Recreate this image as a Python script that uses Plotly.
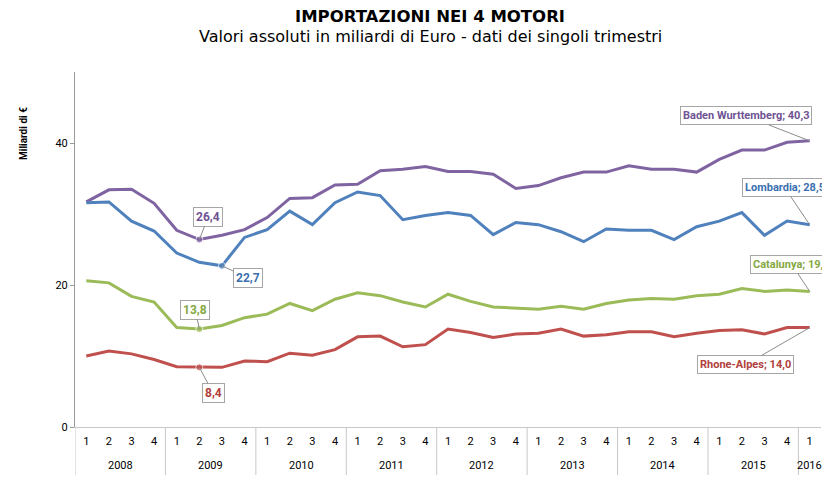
import plotly.graph_objects as go

years = ["2008", "2009", "2010", "2011", "2012", "2013", "2014", "2015", "2016"]
quarters_per_year = [4, 4, 4, 4, 4, 4, 4, 4, 1]
quarter_labels = ["1", "2", "3", "4"]

baden = [31.7, 33.4, 33.5, 31.5, 27.7, 26.4, 27.0, 27.8, 29.5, 32.2, 32.3, 34.1,
         34.2, 36.1, 36.3, 36.7, 36.0, 36.0, 35.6, 33.6, 34.0, 35.1, 35.9, 35.9,
         36.8, 36.3, 36.3, 35.9, 37.7, 39.0, 39.0, 40.1, 40.3]
lombardia = [31.6, 31.7, 29.0, 27.6, 24.5, 23.2, 22.7, 26.7, 27.8, 30.4, 28.5, 31.6,
             33.1, 32.6, 29.2, 29.8, 30.2, 29.8, 27.1, 28.8, 28.5, 27.5, 26.1, 27.9,
             27.7, 27.7, 26.4, 28.2, 29.0, 30.2, 27.0, 29.0, 28.5]
catalunya = [20.6, 20.3, 18.4, 17.6, 14.0, 13.8, 14.3, 15.4, 15.9, 17.4, 16.4, 18.0,
             18.9, 18.5, 17.6, 16.9, 18.7, 17.7, 16.9, 16.7, 16.6, 17.0, 16.6, 17.4,
             17.9, 18.1, 18.0, 18.5, 18.7, 19.5, 19.1, 19.3, 19.1]
rhone = [10.0, 10.7, 10.3, 9.5, 8.5, 8.4, 8.4, 9.3, 9.2, 10.4, 10.1, 10.9,
         12.7, 12.8, 11.3, 11.6, 13.8, 13.3, 12.6, 13.1, 13.2, 13.8, 12.8, 13.0,
         13.4, 13.4, 12.7, 13.2, 13.6, 13.7, 13.1, 14.0, 14.0]

series_names = ["Baden Wurttemberg", "Lombardia", "Catalunya", "Rhone-Alpes"]
series_values = [baden, lombardia, catalunya, rhone]
series_colors = ["#8064A2", "#4F81BD", "#9BBB59", "#C0504D"]
text_colors = ["#6F5393", "#3C6FB0", "#85A83F", "#B0403C"]

title_text = "IMPORTAZIONI NEI 4 MOTORI"
subtitle_text = "Valori assoluti in miliardi di Euro - dati dei singoli trimestri"
y_title = "Miliardi di €"

# index of the highlighted minimum point for each series
min_index = [5, 6, 5, 5]

categories = []
cat_quarters = []
year_spans = []
for y, n in zip(years, quarters_per_year):
    start = len(categories)
    for q in quarter_labels[:n]:
        categories.append(f"{y} T{q}")
        cat_quarters.append(q)
    year_spans.append((y, start, len(categories) - 1))

def fmt(v):
    return f"{v:.1f}".replace(".", ",")

W, H = 822, 480
ml, mr, mt, mb = 75, 1, 72, 53
pw, ph = W - ml - mr, H - mt - mb

def px(xp):
    return (xp - ml) / pw

def py(yp):
    return (H - mb - yp) / ph

fig = go.Figure()
for name, vals, col, mi in zip(series_names, series_values, series_colors, min_index):
    sizes = [7 if i == mi else 0 for i in range(len(vals))]
    fig.add_trace(go.Scatter(
        x=categories, y=vals, name=name, mode="lines+markers",
        line=dict(color=col, width=3), marker=dict(size=sizes, color=col),
        showlegend=False, hoverinfo="skip"))

# callout offsets (pixels) for min labels and end labels
min_offsets = [(9, -23), (26, 12), (-4, -19), (14, 26)]
end_offsets = [(-64, -25), (-25, -37), (-18, -27), (-64, 37)]

ann_font = "Liberation Sans Narrow, Roboto, sans-serif"
for k in range(4):
    vals = series_values[k]
    mi = min_index[k]
    fig.add_annotation(
        x=mi, y=vals[mi], xref="x", yref="y", text=f"<b>{fmt(vals[mi])}</b>",
        showarrow=True, arrowhead=0, arrowwidth=1, arrowcolor="#8c8c8c",
        ax=min_offsets[k][0], ay=min_offsets[k][1],
        bgcolor="white", bordercolor="#a6a6a6", borderwidth=1, borderpad=2,
        font=dict(family=ann_font, size=12, color=text_colors[k]))
    last = len(vals) - 1
    fig.add_annotation(
        x=last, y=vals[last], xref="x", yref="y",
        text=f"<b>{series_names[k]}; {fmt(vals[last])}</b>",
        showarrow=True, arrowhead=0, arrowwidth=1, arrowcolor="#8c8c8c",
        ax=end_offsets[k][0], ay=end_offsets[k][1],
        bgcolor="white", bordercolor="#a6a6a6", borderwidth=1, borderpad=2,
        font=dict(family=ann_font, size=11, color=text_colors[k]))

fig.add_annotation(text=f"<b>{title_text}</b>", x=px(430), y=py(17),
                   xref="paper", yref="paper", showarrow=False,
                   xanchor="center", yanchor="middle",
                   font=dict(family="DejaVu Sans", size=16.5, color="black"))
fig.add_annotation(text=subtitle_text, x=px(430), y=py(37),
                   xref="paper", yref="paper", showarrow=False,
                   xanchor="center", yanchor="middle",
                   font=dict(family="DejaVu Sans", size=16, color="black"))
fig.add_annotation(text=f"<b>{y_title}</b>", x=px(23), y=py(133),
                   xref="paper", yref="paper", showarrow=False, textangle=-90,
                   xanchor="center", yanchor="middle",
                   font=dict(family="Roboto", size=10, color="black"))

# year labels and dividers of the two-level category axis
for y, s, e in year_spans:
    fig.add_annotation(text=y, x=(s + e) / 2, y=py(465), xref="x", yref="paper",
                       showarrow=False, xanchor="center", yanchor="middle",
                       font=dict(family="Roboto", size=11, color="black"))
    fig.add_shape(type="line", xref="x", yref="paper", x0=s - 0.5, x1=s - 0.5,
                  y0=0, y1=py(475), line=dict(color="#c8c8c8", width=1))

fig.update_layout(
    width=W, height=H, autosize=False,
    margin=dict(l=ml, r=mr, t=mt, b=mb, autoexpand=False),
    paper_bgcolor="white", plot_bgcolor="white",
    font=dict(family="Roboto", size=11, color="black"),
    xaxis=dict(type="category", range=[-0.5, len(categories) - 0.5],
               tickvals=categories, ticktext=cat_quarters,
               showline=True, linecolor="#c8c8c8", linewidth=1,
               showgrid=False, ticks="outside", ticklen=4,
               tickcolor="rgba(0,0,0,0)", automargin=False,
               tickfont=dict(family="Roboto", size=11, color="black")),
    yaxis=dict(range=[0, 50], tickvals=[0, 20, 40], showline=True,
               linecolor="#999999", linewidth=1, showgrid=False,
               ticks="outside", ticklen=4, tickcolor="#999999",
               zeroline=False, automargin=False,
               tickfont=dict(family="Roboto", size=11, color="black")),
)

fig.write_html("out.html", config={"displayModeBar": False},
               post_script="document.body.style.margin='0';document.body.style.padding='0';")
